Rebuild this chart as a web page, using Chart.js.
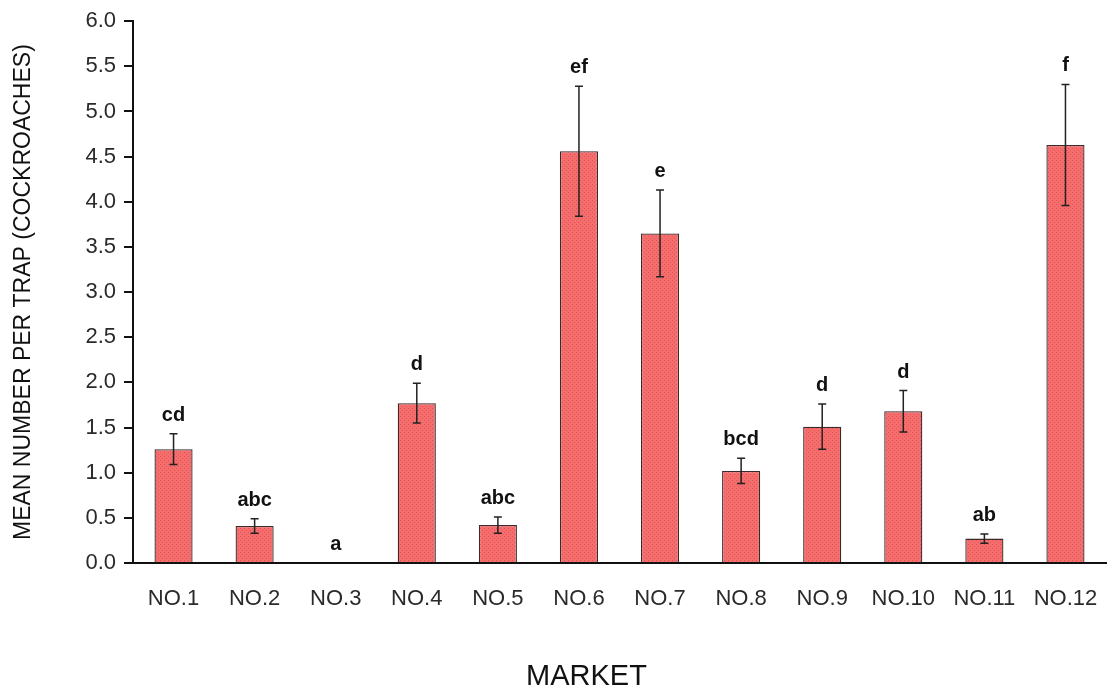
<!DOCTYPE html>
<html>
<head>
<meta charset="utf-8">
<script src="https://cdn.jsdelivr.net/npm/chart.js@4.4.0/dist/chart.umd.min.js"></script>
<style>
  html, body { margin: 0; padding: 0; background: #ffffff; }
  #wrap { width: 1110px; height: 687px; }
</style>
</head>
<body>
<div id="wrap"><canvas id="c" width="1110" height="687"></canvas></div>
<script>
// Markets surveyed
const markets = ['NO.1', 'NO.2', 'NO.3', 'NO.4', 'NO.5', 'NO.6', 'NO.7', 'NO.8', 'NO.9', 'NO.10', 'NO.11', 'NO.12'];
// Mean cockroaches caught per trap
const meanPerTrap = [1.26, 0.41, 0.0, 1.77, 0.42, 4.56, 3.65, 1.02, 1.51, 1.68, 0.27, 4.63];
// Standard error of each mean
const stdError = [0.17, 0.08, 0.0, 0.22, 0.09, 0.72, 0.48, 0.14, 0.25, 0.23, 0.05, 0.67];
// Significance group letters
const groupLetters = ['cd', 'abc', 'a', 'd', 'abc', 'ef', 'e', 'bcd', 'd', 'd', 'ab', 'f'];
// Y axis tick values
const yTicks = [0, 0.5, 1, 1.5, 2, 2.5, 3, 3.5, 4, 4.5, 5, 5.5, 6];
const xTitle = 'MARKET';

const FONT = '"Liberation Sans", Arial, sans-serif';

// Dotted salmon fill for the bars
function makePattern() {
  const p = document.createElement('canvas');
  p.width = 4; p.height = 4;
  const g = p.getContext('2d');
  g.fillStyle = '#f56d6d';
  g.fillRect(0, 0, 4, 4);
  g.fillStyle = '#dc5454';
  g.fillRect(0, 0, 1, 1);
  g.fillRect(2, 2, 1, 1);
  return g.createPattern(p, 'repeat');
}

// Error bars, group letters and the category-axis title
const errorBarPlugin = {
  id: 'errorBars',
  afterDatasetsDraw(chart) {
    const ctx = chart.ctx;
    const x = chart.scales.x, y = chart.scales.y;
    ctx.save();
    meanPerTrap.forEach((v, i) => {
      const cx = x.getPixelForValue(i);
      const e = stdError[i];
      const yTop = y.getPixelForValue(v + e);
      if (e > 0) {
        const yBot = y.getPixelForValue(v - e);
        ctx.strokeStyle = '#222';
        ctx.lineWidth = 1.5;
        ctx.beginPath();
        ctx.moveTo(cx, yTop); ctx.lineTo(cx, yBot);
        ctx.moveTo(cx - 4, yTop); ctx.lineTo(cx + 4, yTop);
        ctx.moveTo(cx - 4, yBot); ctx.lineTo(cx + 4, yBot);
        ctx.stroke();
      }
      ctx.fillStyle = '#111';
      ctx.font = 'bold 20px ' + FONT;
      ctx.textAlign = 'center';
      ctx.textBaseline = 'alphabetic';
      ctx.fillText(groupLetters[i], cx, yTop - 13);
    });
    // axis title below the category labels
    const ca = chart.chartArea;
    ctx.fillStyle = '#111';
    ctx.font = '29px ' + FONT;
    ctx.textAlign = 'center';
    ctx.textBaseline = 'alphabetic';
    ctx.fillText(xTitle, (ca.left + ca.right) / 2 - 33, chart.height - 2);
    ctx.restore();
  }
};

new Chart(document.getElementById('c'), {
  type: 'bar',
  data: {
    labels: markets,
    datasets: [{
      data: meanPerTrap,
      backgroundColor: makePattern(),
      borderColor: '#3a2a2a',
      borderWidth: 1.3,
      borderSkipped: 'bottom',
      categoryPercentage: 1.0,
      barPercentage: 0.47
    }]
  },
  options: {
    responsive: false,
    animation: false,
    devicePixelRatio: 1,
    layout: { padding: { top: 20, right: 4, left: 0, bottom: 0 } },
    plugins: { legend: { display: false }, tooltip: { enabled: false } },
    scales: {
      x: {
        offset: true,
        grid: { display: false, drawTicks: false },
        border: { display: true, color: '#111', width: 2 },
        ticks: { color: '#2a2a2a', font: { family: FONT, size: 22 }, padding: 23, maxRotation: 0 },
        afterFit(s) { s.height = 124; s.paddingLeft = 0; s.paddingRight = 0; }
      },
      y: {
        min: 0, max: 6,
        afterBuildTicks(s) { s.ticks = yTicks.map(v => ({ value: v })); },
        grid: { drawOnChartArea: false, drawTicks: true, tickLength: 9, color: '#111', lineWidth: 2 },
        border: { display: true, color: '#111', width: 2 },
        ticks: {
          color: '#2a2a2a', font: { family: FONT, size: 22 }, padding: 8,
          callback: (v) => Number(v).toFixed(1)
        },
        title: {
          display: true, text: 'MEAN NUMBER PER TRAP (COCKROACHES)', color: '#111',
          font: { family: FONT, size: 23 }, padding: { top: 10, bottom: 0 }
        },
        afterFit(s) { s.width = 133; }
      }
    }
  },
  plugins: [errorBarPlugin]
});
</script>
</body>
</html>
